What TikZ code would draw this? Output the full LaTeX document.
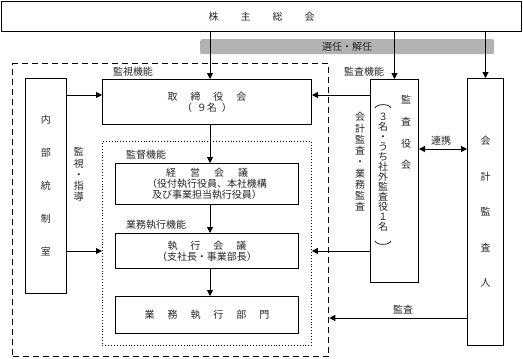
\documentclass[tikz,border=0pt]{standalone}
\usepackage{fontspec}
\newfontfamily\cjk{Noto Sans CJK JP}
\usetikzlibrary{arrows.meta}
\newcommand{\sg}[1]{\hspace{#1pt}}
\begin{document}
\begin{tikzpicture}[x=1pt,y=-1pt,
  box/.style={draw, line width=1pt, rectangle, inner sep=0pt, anchor=north west, align=center,
    font=\cjk\fontsize{10}{11}\selectfont, text=black!85},
  lbl/.style={inner sep=0pt, font=\cjk\fontsize{10}{11}\selectfont, text=black!85},
  vlbl/.style={inner sep=0pt, align=center, text=black!85},
  arr/.style={line width=1pt, -{Triangle[length=6pt,width=6pt]}},
  darr/.style={line width=1pt, {Triangle[length=6pt,width=6pt]}-{Triangle[length=6pt,width=6pt]}},
  paren/.style={line width=0.8pt, black!85},
]
\useasboundingbox (0,0) rectangle (523,359);
% top
\node[box, minimum width=520pt, minimum height=30pt] (gm) at (1,1) {株\sg{22}主\sg{22}総\sg{22}会};
\node[fill=black!30, rounded corners=2pt, minimum width=294pt, minimum height=15pt, anchor=north west, inner sep=0pt] (band) at (200,39) {};
\node[lbl] (sennin) at (347,46.5) {選任・解任};
% frames
\node[draw, line width=1.3pt, dash pattern=on 6pt off 4pt, minimum width=316pt, minimum height=293pt, anchor=north west, inner sep=0pt] (gov) at (12,63) {};
\node[draw, line width=0.9pt, dotted, minimum width=209pt, minimum height=204pt, anchor=north west, inner sep=0pt] (exec) at (102,141) {};
% boxes
\node[box, minimum width=209pt, minimum height=45pt] (tori) at (102,79) {取\sg{13}締\sg{13}役\sg{13}会\\（\sg{5}９名\sg{5}）};
\node[box, minimum width=183pt, minimum height=41pt] (keiei) at (115,163) {経\sg{14}営\sg{14}会\sg{14}議\\（役付執行役員、本社機構\\及び事業担当執行役員）};
\node[box, minimum width=183pt, minimum height=35pt] (shikko) at (115,233) {執\sg{13}行\sg{13}会\sg{13}議\\（支社長・事業部長）};
\node[box, minimum width=183pt, minimum height=37pt] (bumon) at (115,296) {業\sg{13}務\sg{13}執\sg{13}行\sg{13}部\sg{13}門};
\node[box, minimum width=41pt, minimum height=215pt, font=\cjk\fontsize{10}{33}\selectfont] (naibu) at (25,78) {内\\部\\統\\制\\室};
\node[box, minimum width=48pt, minimum height=203pt] (kansa) at (370,79) {};
\node[box, minimum width=36pt, minimum height=267pt, font=\cjk\fontsize{10}{35.5}\selectfont] (kaikei) at (467,78) {会\\計\\監\\査\\人};
% vertical texts
\node[vlbl, font=\cjk\fontsize{10}{21.7}\selectfont] (kansaname) at (406,132.5) {監\\査\\役\\会};
\node[vlbl, font=\cjk\fontsize{10}{10}\selectfont] (kansanum) at (383,172) {３\\名\\・\\う\\ち\\社\\外\\監\\査\\役\\１\\名};
\draw[paren] (375,108) .. controls (377,103.5) and (389,103.5) .. (391,108);
\draw[paren] (375,241) .. controls (377,245.5) and (389,245.5) .. (391,241);
\node[vlbl, font=\cjk\fontsize{10}{11.25}\selectfont] (shido) at (79,174.5) {監\\視\\・\\指\\導};
\node[vlbl, font=\cjk\fontsize{10}{11.25}\selectfont] (gyomu) at (360,162) {会\\計\\監\\査\\・\\業\\務\\監\\査};
% labels
\node[lbl] (l1) at (133,72) {監視機能};
\node[lbl] (l2) at (364,72) {監査機能};
\node[lbl] (l3) at (146,155) {監督機能};
\node[lbl] (l4) at (156,225) {業務執行機能};
\node[lbl] (l5) at (441,141) {連携};
\node[lbl] (l6) at (403,310) {監査};
% connectors
\coordinate (ax) at (210,0);
\coordinate (ay1) at (0,95);
\coordinate (ay2) at (0,251);
\coordinate (ay3) at (0,149);
\coordinate (ay4) at (0,318);
\draw[arr] (gm.south -| ax) -- (tori.north -| ax);
\draw[arr] (gm.south -| kansa.north) -- (kansa.north);
\draw[arr] (gm.south -| kaikei.north) -- (kaikei.north);
\draw[arr] (tori.south -| ax) -- (keiei.north -| ax);
\draw[arr] (keiei.south -| ax) -- (shikko.north -| ax);
\draw[arr] (shikko.south -| ax) -- (bumon.north -| ax);
\draw[arr] (naibu.east |- ay1) -- (tori.west |- ay1);
\draw[arr] (naibu.east |- ay2) -- (exec.west |- ay2);
\draw[arr] (kansa.west |- ay1) -- (tori.east |- ay1);
\draw[arr] (kansa.west |- ay2) -- (exec.east |- ay2);
\draw[darr] (kansa.east |- ay3) -- (kaikei.west |- ay3);
\draw[arr] (kaikei.west |- ay4) -- (gov.east |- ay4);
\end{tikzpicture}
\end{document}
